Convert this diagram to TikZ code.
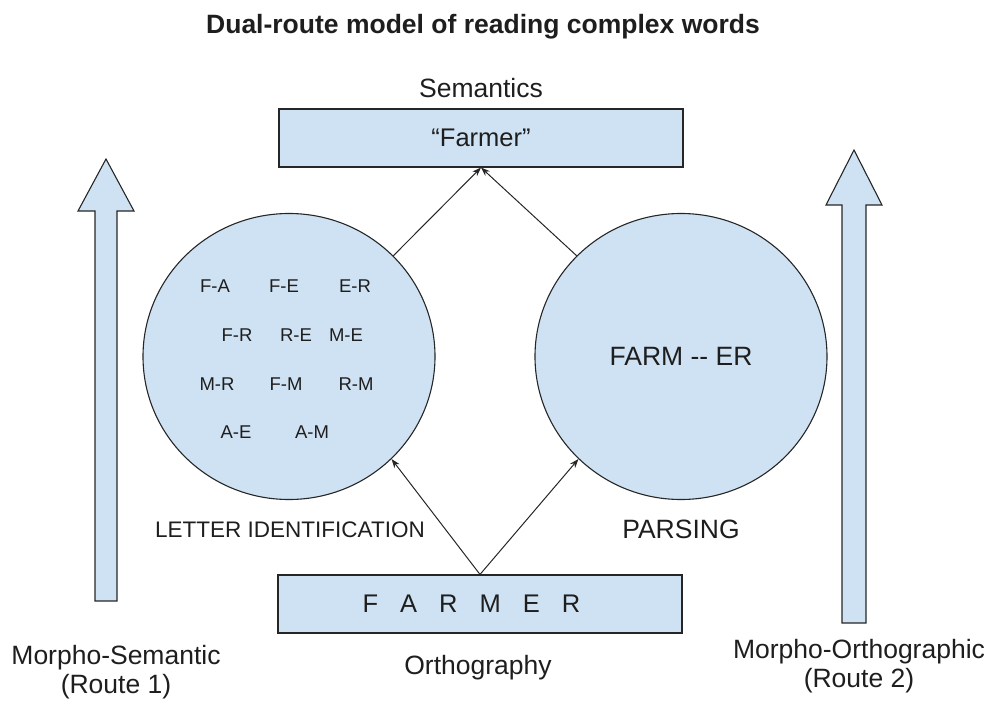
\documentclass[tikz,border=0pt]{standalone}
\usepackage{fontspec}
\setmainfont{Liberation Sans}
\usepackage{xcolor}
\usepackage{tikz}
\usetikzlibrary{shapes.geometric, arrows.meta, positioning}

\definecolor{boxblue}{HTML}{CFE2F3}
\definecolor{inkgray}{HTML}{1E1E1E}

\begin{document}
\begin{tikzpicture}[
    x=1pt, y=-1pt,
    every node/.style={text=inkgray},
    level/.style={rectangle, draw=black!85, fill=boxblue, line width=1.1pt, minimum width=404pt, minimum height=58pt, font=\fontsize{25.5}{29}\selectfont},
    process/.style={ellipse, draw=black!85, fill=boxblue, line width=1.1pt, minimum width=292pt, minimum height=286pt, inner sep=0pt, font=\fontsize{26.5}{29}\selectfont},
    caption/.style={anchor=base, align=center, font=\fontsize{26.5}{29}\selectfont},
    pair/.style={anchor=base, font=\fontsize{18.5}{21}\selectfont},
    arrow/.style={draw=black!85, line width=1pt, -{Stealth[length=9pt, width=6.5pt]}},
    route/.style={draw=black!85, fill=boxblue, line width=1.1pt, line join=miter}
]
    \useasboundingbox (0,0) rectangle (989,704);

    \node [caption, font=\bfseries\fontsize{26.5}{29}\selectfont] (title) at (483,33) {Dual-route model of reading complex words};

    % levels and the two processes
    \node [level] (meaning) at (481,138) {“Farmer”};
    \node [level] (ortho) at (480,604) {F\hspace{22pt}A\hspace{22pt}R\hspace{22pt}M\hspace{22pt}E\hspace{22pt}R\hspace{17pt}\mbox{}};
    \node [process] (letters) at (289,356.5) {};
    \node [process] (parse) at (681,356.5) {FARM -{}- ER};

    \foreach \txt/\x/\y [count=\i] in {F-A/215/292, F-E/284/292, E-R/355/292,
                                       F-R/237/341, R-E/296/341, M-E/346/341,
                                       M-R/217/390, F-M/286/390, R-M/356/390,
                                       A-E/236/438, A-M/312/438}
        \node [pair] (pair\i) at (\x,\y) {\txt};

    \node [caption] (semlabel) at (481,97) {Semantics};
    \node [caption] (orthlabel) at (478,674) {Orthography};
    \node [caption, font=\fontsize{22.5}{25}\selectfont] (idlabel) at (290,537) {LETTER IDENTIFICATION};
    \node [caption] (parselabel) at (681,538) {PARSING};

    \draw [arrow] (letters.44) -- (meaning.south);
    \draw [arrow] (parse.136) -- (meaning.south);
    \draw [arrow] (ortho.north) -- (letters.-45);
    \draw [arrow] (ortho.north) -- (parse.-135);

    % the two routes
    \draw [route] (95,601) -- (95,211) -- (78,211) -- (106,159) -- (134,211) -- (117,211) -- (117,601) -- cycle;
    \draw [route] (842,623) -- (842,205) -- (826,205) -- (854,150) -- (882,205) -- (866,205) -- (866,623) -- cycle;
    \node [caption] (route1) at (116,693) {Morpho-Semantic\\(Route 1)};
    \node [caption] (route2) at (859,687) {Morpho-Orthographic\\(Route 2)};
\end{tikzpicture}
\end{document}
